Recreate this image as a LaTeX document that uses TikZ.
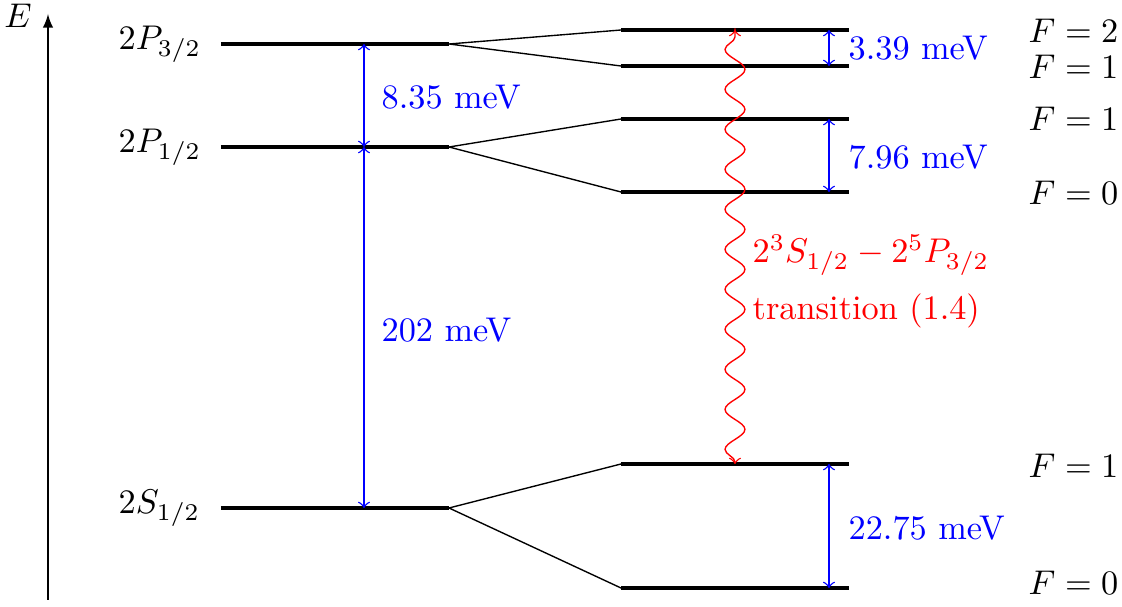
\documentclass[tikz,border=0pt]{standalone}
\usetikzlibrary{decorations.pathmorphing,arrows}
\begin{document}
\begin{tikzpicture}[x=0.2915pt,y=-0.2915pt,
  level/.style={line width=1.3pt},
  conn/.style={line width=0.4pt},
  gap/.style={blue,<->,line width=0.4pt},
  gaplbl/.style={blue,anchor=west,inner sep=0pt},
  flbl/.style={anchor=west,inner sep=0pt},
  termlbl/.style={anchor=base west,inner sep=0pt},
  translbl/.style={red,anchor=base west,inner sep=0pt}]
\useasboundingbox (0,0) rectangle (1122,607);
% energy axis
\coordinate (ax0) at (48,600);
\coordinate (ax1) at (48,14);
\draw[-latex,line width=0.4pt] (ax0) -- (ax1);
\node[anchor=center,inner sep=0pt] (Elbl) at (18,16) {$E$};
% fine structure levels
\coordinate (p3a) at (221,44);  \coordinate (p3b) at (449,44);
\coordinate (p1a) at (221,147); \coordinate (p1b) at (449,147);
\coordinate (s1a) at (221,508); \coordinate (s1b) at (449,508);
\draw[level] (p3a) -- (p3b);
\draw[level] (p1a) -- (p1b);
\draw[level] (s1a) -- (s1b);
\node[termlbl] (p3lbl) at (118,50) {$2P_{3/2}$};
\node[termlbl] (p1lbl) at (118,153) {$2P_{1/2}$};
\node[termlbl] (s1lbl) at (118,514) {$2S_{1/2}$};
% hyperfine levels
\coordinate (h1a) at (621,30);  \coordinate (h1b) at (849,30);
\coordinate (h2a) at (621,66);  \coordinate (h2b) at (849,66);
\coordinate (h3a) at (621,119); \coordinate (h3b) at (849,119);
\coordinate (h4a) at (621,192); \coordinate (h4b) at (849,192);
\coordinate (h5a) at (621,464); \coordinate (h5b) at (849,464);
\coordinate (h6a) at (621,588); \coordinate (h6b) at (849,588);
\foreach \n in {h1,h2,h3,h4,h5,h6}{\draw[level] (\n a) -- (\n b);}
% connectors
\draw[conn] (h1a) -- (p3b) -- (h2a);
\draw[conn] (h3a) -- (p1b) -- (h4a);
\draw[conn] (h5a) -- (s1b) -- (h6a);
% F labels
\node[flbl] (f1) at (1028,31) {$F=2$};
\node[flbl] (f2) at (1028,67) {$F=1$};
\node[flbl] (f3) at (1028,119) {$F=1$};
\node[flbl] (f4) at (1028,193) {$F=0$};
\node[flbl] (f5) at (1028,466) {$F=1$};
\node[flbl] (f6) at (1028,583) {$F=0$};
% splittings, left
\coordinate (g1t) at (364,44);
\coordinate (g1b) at (364,147);
\coordinate (g2b) at (364,508);
\draw[gap] (g1t) -- (g1b);
\draw[gap] (g1b) -- (g2b);
\node[gaplbl] (l835) at (381,97) {8.35 meV};
\node[gaplbl] (l202) at (381,330) {202 meV};
% splittings, right
\coordinate (r1t) at (829,30);  \coordinate (r1b) at (829,66);
\coordinate (r2t) at (829,119); \coordinate (r2b) at (829,192);
\coordinate (r3t) at (829,464); \coordinate (r3b) at (829,588);
\draw[gap] (r1t) -- (r1b);
\draw[gap] (r2t) -- (r2b);
\draw[gap] (r3t) -- (r3b);
\node[gaplbl] (l339) at (848,48) {3.39 meV};
\node[gaplbl] (l796) at (848,157) {7.96 meV};
\node[gaplbl] (l2275) at (848,528) {22.75 meV};
% transition
\coordinate (wb) at (735,464);
\coordinate (wt) at (735,30);
\draw[red,<->,line width=0.4pt,decorate,decoration={snake,amplitude=2.9pt,segment length=11.66pt,pre length=0.6pt,post length=0.6pt}] (wb) -- (wt);
\node[translbl] (tr1) at (752,263) {$2^3S_{1/2}-2^5P_{3/2}$};
\node[translbl] (tr2) at (752,320) {transition (1.4)};
\end{tikzpicture}
\end{document}
